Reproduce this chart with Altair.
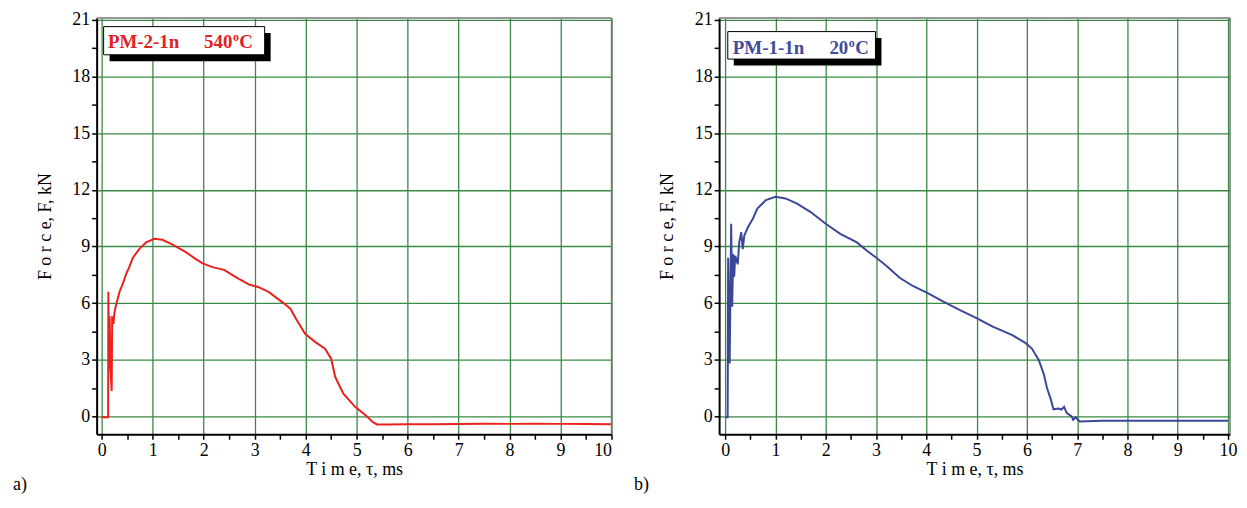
import altair as alt
import pandas as pd

# ---- data ----
t_a = [0.0, 0.125, 0.13, 0.14, 0.155, 0.17, 0.195, 0.205, 0.23, 0.25, 0.28, 0.35, 0.41, 0.48,
       0.54, 0.61, 0.74, 0.87, 1.03, 1.19, 1.39, 1.65, 1.84, 1.97, 2.17, 2.40, 2.63, 2.89,
       3.08, 3.28, 3.54, 3.70, 3.83, 3.99, 4.19, 4.38, 4.50, 4.58, 4.74, 4.97, 5.17, 5.32,
       5.40, 5.6, 6.0, 6.5, 7.0, 7.5, 8.0, 8.5, 9.0, 9.5, 10.0]
f_a = [-0.05, -0.05, 6.6, 2.5, 5.3, 2.6, 1.35, 5.3, 4.9, 5.5, 5.9, 6.6, 7.0, 7.55,
       7.9, 8.4, 8.87, 9.22, 9.4, 9.35, 9.1, 8.7, 8.34, 8.11, 7.9, 7.76, 7.37, 6.98,
       6.84, 6.58, 6.05, 5.7, 5.08, 4.37, 3.93, 3.58, 3.05, 2.08, 1.2, 0.5, 0.07, -0.31,
       -0.43, -0.43, -0.42, -0.42, -0.41, -0.39, -0.40, -0.39, -0.40, -0.41, -0.42]

t_b = [0.0, 0.05, 0.06, 0.09, 0.12, 0.14, 0.16, 0.18, 0.2, 0.25, 0.28, 0.32, 0.35, 0.38,
       0.45, 0.55, 0.64, 0.81, 1.0, 1.2, 1.43, 1.70, 2.0, 2.29, 2.62, 2.82, 3.0, 3.21,
       3.47, 3.74, 4.0, 4.33, 4.66, 5.0, 5.32, 5.71, 5.97, 6.1, 6.24, 6.34, 6.40, 6.47,
       6.53, 6.63, 6.69, 6.74, 6.79, 6.89, 6.92, 6.97, 7.05, 7.5, 8.0, 8.5, 9.0, 9.5, 10.0]
f_b = [-0.05, -0.05, 8.4, 2.8, 10.2, 5.8, 8.6, 7.4, 8.5, 8.05, 9.2, 9.75, 8.86, 9.57,
       10.0, 10.46, 11.0, 11.45, 11.63, 11.54, 11.27, 10.82, 10.2, 9.66, 9.21, 8.77, 8.41, 7.96,
       7.34, 6.89, 6.57, 6.09, 5.64, 5.2, 4.75, 4.3, 3.89, 3.59, 2.96, 2.2, 1.5, 0.95,
       0.37, 0.41, 0.36, 0.5, 0.18, 0.0, -0.18, -0.05, -0.27, -0.24, -0.23, -0.24, -0.23, -0.24, -0.23]

x_ticks = [i * 0.5 for i in range(21)]
y_ticks = [i * 1.5 for i in range(15)]

labels_a = ["PM-2-1n", "540", "o", "C", "a)"]
labels_b = ["PM-1-1n", "20", "o", "C", "b)"]

x_title = "T i m e,  \u03c4, ms"
y_title = "F o r c e,   F, kN"

FONT = "Liberation Serif"
H = 418
GREEN = "#3a8a45"


def one():
    return pd.DataFrame({"k": [0]})


def panel(t, f, color, textcolor, xdom, W, labels, lay):
    df = pd.DataFrame({"t": t, "f": f, "i": list(range(len(t)))})
    xaxis = alt.Axis(
        values=x_ticks,
        labelExpr="datum.value % 1 === 0 ? format(datum.value, 'd') : ''",
        gridOpacity={"condition": {"test": "datum.value % 1 === 0", "value": 1}, "value": 0},
        title=x_title,
        titlePadding=1,
    )
    yaxis = alt.Axis(
        values=y_ticks,
        labelExpr="datum.value % 3 === 0 ? format(datum.value, 'd') : ''",
        gridOpacity={"condition": {"test": "datum.value % 3 === 0", "value": 1}, "value": 0},
        title=y_title,
        titlePadding=17.5,
    )
    line = alt.Chart(df).mark_line(color=color, strokeWidth=2, clip=True).encode(
        x=alt.X("t:Q", scale=alt.Scale(domain=xdom, nice=False, zero=False), axis=xaxis),
        y=alt.Y("f:Q", scale=alt.Scale(domain=[-0.95, 21.1], nice=False, zero=False), axis=yaxis),
        order="i:Q",
    )
    top = alt.Chart(one()).mark_rule(color="#777", strokeWidth=1.5).encode(
        x=alt.value(0), x2=alt.value(W), y=alt.value(0))
    right = alt.Chart(one()).mark_rule(color="#777", strokeWidth=1.5).encode(
        x=alt.value(W), y=alt.value(0), y2=alt.value(H))
    bx0, by0, bx1, by1 = lay["box"]
    shadow = alt.Chart(one()).mark_rect(color="black").encode(
        x=alt.value(bx0 + 6), x2=alt.value(bx1 + 6), y=alt.value(by0 + 6.5), y2=alt.value(by1 + 6.5))
    box = alt.Chart(one()).mark_rect(fill="white", stroke="black", strokeWidth=1).encode(
        x=alt.value(bx0), x2=alt.value(bx1), y=alt.value(by0), y2=alt.value(by1))
    base = lay["base"]
    t1 = alt.Chart(one()).mark_text(font=FONT, fontSize=19, fontWeight="bold", color=textcolor,
                                    align="left", baseline="alphabetic").encode(
        x=alt.value(lay["name_x"]), y=alt.value(base), text=alt.value(labels[0]))
    t2 = alt.Chart(one()).mark_text(font=FONT, fontSize=19, fontWeight="bold", color=textcolor,
                                    align="right", baseline="alphabetic").encode(
        x=alt.value(lay["num_r"]), y=alt.value(base), text=alt.value(labels[1]))
    t3 = alt.Chart(one()).mark_text(font=FONT, fontSize=12, fontWeight="bold", color=textcolor,
                                    align="left", baseline="alphabetic").encode(
        x=alt.value(lay["num_r"] + 0.5), y=alt.value(base - 7), text=alt.value(labels[2]))
    t4 = alt.Chart(one()).mark_text(font=FONT, fontSize=19, fontWeight="bold", color=textcolor,
                                    align="left", baseline="alphabetic").encode(
        x=alt.value(lay["num_r"] + 7), y=alt.value(base), text=alt.value(labels[3]))
    letter = alt.Chart(one()).mark_text(font=FONT, fontSize=18, color="black",
                                        align="center", baseline="middle").encode(
        x=alt.value(lay["letter_x"]), y=alt.value(469), text=alt.value(labels[4]))
    return alt.layer(line, top, right, shadow, box, t1, t2, t3, t4, letter).properties(
        width=W, height=H)


lay_a = {"box": (7, 8.7, 168.7, 37), "base": 30.3, "name_x": 11.3, "num_r": 136.3, "letter_x": -77}
lay_b = {"box": (8.7, 13.7, 157, 41.3), "base": 36.3, "name_x": 13.7, "num_r": 129.7, "letter_x": -78}

left = panel(t_a, f_a, "#e8221e", "#e02222", [-0.1, 10.0], 517, labels_a, lay_a)
right = panel(t_b, f_b, "#3b4799", "#3f4b9b", [-0.12, 10.04], 513, labels_b, lay_b)

chart = alt.hconcat(left, right, spacing=21).configure(
    background="white", padding={"left": 5, "top": 1, "right": 2, "bottom": 0}
).configure_view(strokeWidth=0).configure_axis(
    domainColor="black", domainWidth=2, tickColor="black", tickWidth=1.5, tickSize=5,
    labelFont=FONT, labelFontSize=18, labelColor="black", labelPadding=2,
    titleFont=FONT, titleFontSize=18, titleFontWeight="normal", titleColor="black",
    gridColor=GREEN, gridWidth=1.3,
)

chart.save("out.html", embed_options={"renderer": "svg", "actions": False})
